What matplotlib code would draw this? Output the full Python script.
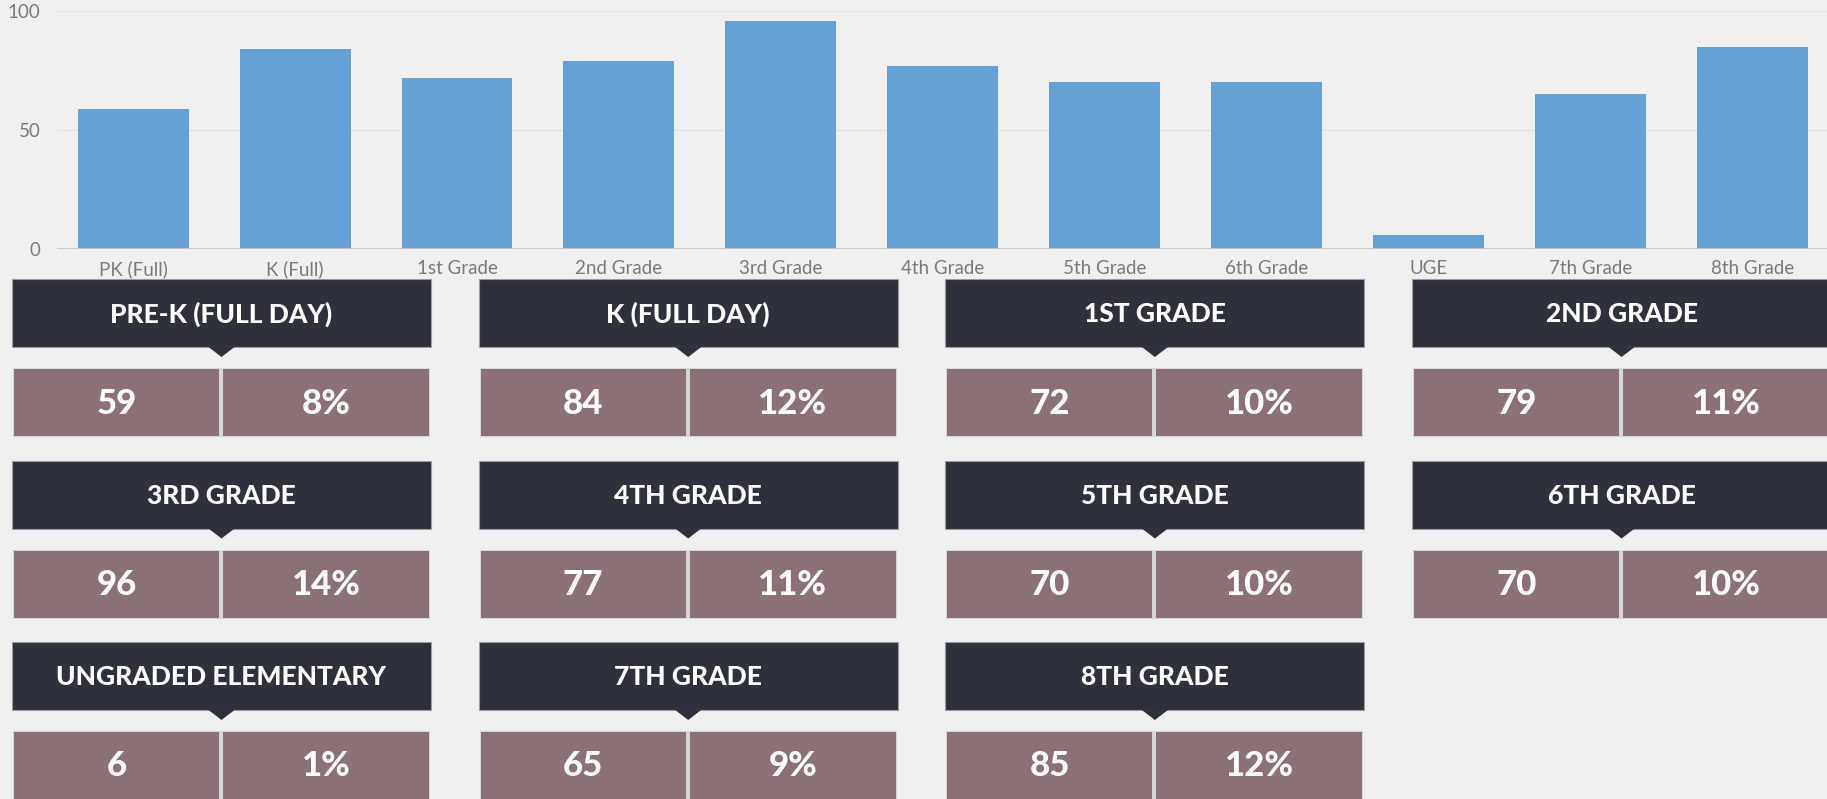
import matplotlib.pyplot as plt
import matplotlib.font_manager as fm
from matplotlib.patches import Rectangle, Polygon

plt.rcParams['font.family'] = ['Lato', 'DejaVu Sans']

# bar chart data
bar_labels = ['PK (Full)', 'K (Full)', '1st Grade', '2nd Grade', '3rd Grade', '4th Grade',
              '5th Grade', '6th Grade', 'UGE', '7th Grade', '8th Grade']
bar_values = [59, 84, 72, 79, 96, 77, 70, 70, 6, 65, 85]

# tile data
tile_titles = ['PRE-K (FULL DAY)', 'K (FULL DAY)', '1ST GRADE', '2ND GRADE',
               '3RD GRADE', '4TH GRADE', '5TH GRADE', '6TH GRADE',
               'UNGRADED ELEMENTARY', '7TH GRADE', '8TH GRADE']
tile_counts = [59, 84, 72, 79, 96, 77, 70, 70, 6, 65, 85]
tile_pcts = ['8%', '12%', '10%', '11%', '14%', '11%', '10%', '10%', '1%', '9%', '12%']

black = [f.fname for f in fm.fontManager.ttflist if f.fname.endswith('Lato-Black.ttf')]
if black:
    head_fp = fm.FontProperties(fname=black[0], size=19)
    val_fp = fm.FontProperties(fname=black[0], size=25)
else:
    head_fp = fm.FontProperties(family='Lato', weight='bold', size=19)
    val_fp = fm.FontProperties(family='Lato', weight='bold', size=25)

bg = '#f0f0f0'
W, H = 1827, 799
fig = plt.figure(figsize=(W / 100, H / 100), dpi=100, facecolor=bg)

# --- bar chart ---
ax = fig.add_axes([57 / W, 1 - 249 / H, 1770 / W, 238 / H])
ax.set_facecolor(bg)
x = range(len(bar_values))
ax.bar(x, bar_values, width=0.685, color='#65a1d7', zorder=3)
ax.set_xlim(-0.47, 10.46)
ax.set_ylim(0, 100)
ax.set_yticks([0, 50, 100])
ax.set_xticks(list(x))
ax.set_xticklabels(bar_labels)
ax.tick_params(length=0, labelsize=13.5, colors='#7a7a7a')
ax.tick_params(axis='x', pad=8)
ax.tick_params(axis='y', pad=12)
ax.grid(axis='y', color='#e2e2e2', lw=1, zorder=0)
for s in ax.spines.values():
    s.set_visible(False)
ax.axhline(0, color='#c8c8c8', lw=2, zorder=4)

# --- tiles (pixel coordinates) ---
ov = fig.add_axes([0, 0, 1, 1])
ov.set_xlim(0, W)
ov.set_ylim(H, 0)
ov.axis('off')
ov.patch.set_alpha(0)

col_x0 = 12
col_pitch = 466.7
row_y0 = 279
row_pitch = 181.5
hw, hh = 419, 68

for i, title in enumerate(tile_titles):
    r, c = divmod(i, 4)
    x0 = col_x0 + c * col_pitch
    y0 = row_y0 + r * row_pitch
    cx = x0 + hw / 2
    ov.add_patch(Rectangle((x0, y0), hw, hh, facecolor='#2e313c', edgecolor='#9a9ca2', lw=0.8))
    ov.add_patch(Polygon([(cx - 13, y0 + hh), (cx + 13, y0 + hh), (cx, y0 + hh + 10)],
                         closed=True, facecolor='#2e313c', edgecolor='none'))
    ov.text(cx, y0 + hh / 2 + 1, title, color='white', fontproperties=head_fp,
            ha='center', va='center')
    vy = y0 + 89
    vh = 69
    ov.add_patch(Rectangle((x0 + 1, vy), 417, vh, facecolor='#d6d6d6', edgecolor='none'))
    ov.add_patch(Rectangle((x0 + 2, vy + 1), 205, vh - 2, facecolor='#8b7175', edgecolor='none'))
    ov.add_patch(Rectangle((x0 + 211, vy + 1), 206, vh - 2, facecolor='#8b7175', edgecolor='none'))
    ov.text(x0 + 2 + 102.5, vy + vh / 2 + 1, str(tile_counts[i]), color='white',
            fontproperties=val_fp, ha='center', va='center')
    ov.text(x0 + 211 + 103, vy + vh / 2 + 1, tile_pcts[i], color='white',
            fontproperties=val_fp, ha='center', va='center')

fig.savefig('out.png', dpi=100, facecolor=bg)
